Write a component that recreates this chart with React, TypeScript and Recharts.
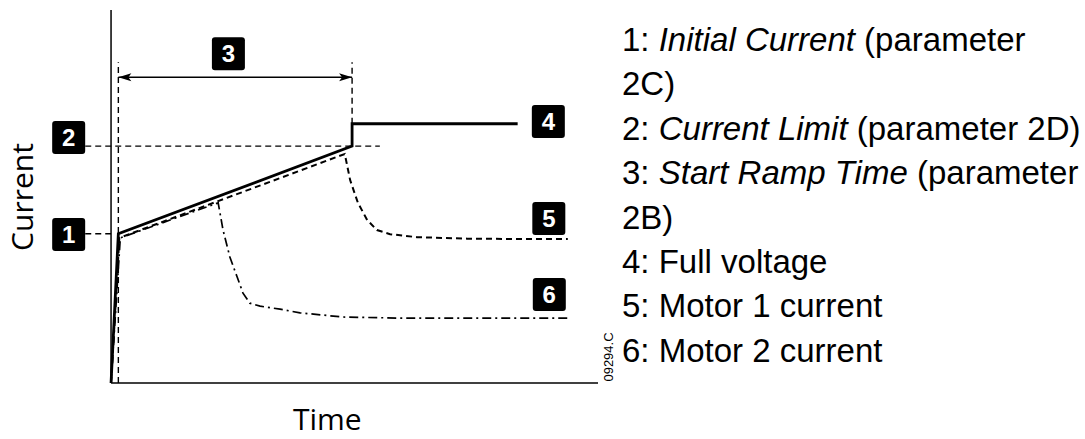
import React from 'react';
import { LineChart, Line, XAxis, YAxis, ReferenceLine, ReferenceDot } from 'recharts';

// time (arbitrary units) / current (% of scale)
const fullVoltageTime = [0, 1.5, 49.5, 49.5, 83.5];
const fullVoltageCurrent = [0, 40, 63.5, 69.5, 69.5];

const motor1Time = [0, 1.7, 48.0, 49.1, 50.7, 52.6, 54.6, 57.3, 62.8, 73.1, 83.4, 93.8];
const motor1Current = [0, 38.9, 61.4, 54.4, 48.3, 43.7, 41.0, 39.9, 39.1, 38.7, 38.6, 38.6];

const motor2Time = [0, 1.9, 22.0, 23.0, 24.4, 25.9, 27.1, 28.5, 30.6, 34.7, 38.8, 47.6, 59.3, 93.8];
const motor2Current = [0, 38.9, 48.3, 41.0, 33.8, 28.4, 24.1, 21.4, 20.6, 19.8, 18.8, 17.7, 17.4, 17.4];

const initialCurrent = 40;
const currentLimit = 63.5;
const rampStart = 1.5;
const rampEnd = 49.5;

// numbered markers: [label, time, current]
const markers: [string, number, number][] = [
  ['1', -8.7, 39.8],
  ['2', -8.7, 65.8],
  ['3', 24.1, 88.3],
  ['4', 89.8, 70.1],
  ['5', 89.9, 44.1],
  ['6', 90.0, 23.7],
];

const legendLines = [
  <>1: <i>Initial Current</i> (parameter</>,
  <>2C)</>,
  <>2: <i>Current Limit</i> (parameter 2D)</>,
  <>3: <i>Start Ramp Time</i> (parameter</>,
  <>2B)</>,
  <>4: Full voltage</>,
  <>5: Motor 1 current</>,
  <>6: Motor 2 current</>,
];

const toPoints = (ts: number[], cs: number[]) => ts.map((t, i) => ({ t, c: cs[i] }));

const fullVoltageData = toPoints(fullVoltageTime, fullVoltageCurrent);
const motor1Data = toPoints(motor1Time, motor1Current);
const motor2Data = toPoints(motor2Time, motor2Current);

const Marker = (label: string) => (props: any) => {
  const { cx, cy } = props;
  return (
    <g>
      <rect x={cx - 16.5} y={cy - 16.5} width={33} height={33} rx={3} fill="#000" />
      <text
        x={cx}
        y={cy + 8.5}
        textAnchor="middle"
        fill="#fff"
        fontFamily="'Liberation Sans', Arial, sans-serif"
        fontWeight="bold"
        fontSize={24}
      >
        {label}
      </text>
    </g>
  );
};

const ArrowLine = (props: any) => {
  const { x1, y1, x2, y2 } = props;
  return (
    <g>
      <line x1={x1} y1={y1} x2={x2} y2={y2} stroke="#000" strokeWidth={1.5} />
      <path d={`M${x1},${y1} l13,-4 l-3,4 l3,4 z`} fill="#000" />
      <path d={`M${x2},${y2} l-13,-4 l3,4 l-3,4 z`} fill="#000" />
    </g>
  );
};

const guide = { stroke: '#000', strokeWidth: 1.4, strokeDasharray: '6 4' };

export default function App() {
  return (
    <div style={{ position: 'absolute', left: 0, top: 0, width: 1085, height: 439, background: '#fff' }}>
      <LineChart width={1085} height={439} margin={{ top: 10, right: 487, bottom: 56, left: 38 }}>
        <XAxis type="number" dataKey="t" domain={[-15, 100]} hide />
        <YAxis type="number" domain={[0, 100]} hide />

        {/* axes */}
        <ReferenceLine segment={[{ x: 0, y: 0 }, { x: 0, y: 100 }]} stroke="#000" strokeWidth={1.5} />
        <ReferenceLine segment={[{ x: 0, y: 0 }, { x: 100, y: 0 }]} stroke="#000" strokeWidth={1.5} />

        {/* guides */}
        <ReferenceLine segment={[{ x: rampStart, y: 0 }, { x: rampStart, y: 86 }]} {...guide} />
        <ReferenceLine segment={[{ x: rampEnd, y: 69.5 }, { x: rampEnd, y: 86 }]} {...guide} />
        <ReferenceLine segment={[{ x: -5.3, y: initialCurrent }, { x: 0, y: initialCurrent }]} {...guide} />
        <ReferenceLine segment={[{ x: -5.3, y: currentLimit }, { x: 55.2, y: currentLimit }]} {...guide} />
        <ReferenceLine segment={[{ x: rampStart, y: 82 }, { x: rampEnd, y: 82 }]} shape={ArrowLine} />

        <Line data={motor2Data} dataKey="c" type="linear" stroke="#000" strokeWidth={1.7} strokeDasharray="9 4 2 4" dot={false} activeDot={false} isAnimationActive={false} />
        <Line data={motor1Data} dataKey="c" type="linear" stroke="#000" strokeWidth={2} strokeDasharray="6 4" dot={false} activeDot={false} isAnimationActive={false} />
        <Line data={fullVoltageData} dataKey="c" type="linear" stroke="#000" strokeWidth={2.8} dot={false} activeDot={false} isAnimationActive={false} />

        {markers.map(([label, t, c]) => (
          <ReferenceDot key={label} x={t} y={c} r={16} shape={Marker(label)} />
        ))}
      </LineChart>

      <div
        style={{
          position: 'absolute', left: 21.5, top: 196.5, transform: 'translate(-50%, -50%) rotate(-90deg)',
          fontFamily: "'Open Sans', sans-serif", fontSize: 30, lineHeight: 1, whiteSpace: 'nowrap', color: '#000',
        }}
      >
        Current
      </div>
      <div
        style={{
          position: 'absolute', left: 293, top: 401, fontFamily: "'Open Sans', sans-serif",
          fontSize: 30, lineHeight: 1.2, whiteSpace: 'nowrap', color: '#000',
        }}
      >
        Time
      </div>
      <div
        style={{
          position: 'absolute', left: 608, top: 357, transform: 'translate(-50%, -50%) rotate(-90deg)',
          fontFamily: "'Liberation Sans', Arial, sans-serif", fontSize: 13, lineHeight: 1, whiteSpace: 'nowrap', color: '#000',
        }}
      >
        09294.C
      </div>
      <div
        style={{
          position: 'absolute', left: 622, top: 18, fontFamily: "'Liberation Sans', Arial, sans-serif",
          fontSize: 33, lineHeight: '44.4px', whiteSpace: 'nowrap', color: '#000',
        }}
      >
        {legendLines.map((l, i) => (
          <div key={i}>{l}</div>
        ))}
      </div>
    </div>
  );
}
